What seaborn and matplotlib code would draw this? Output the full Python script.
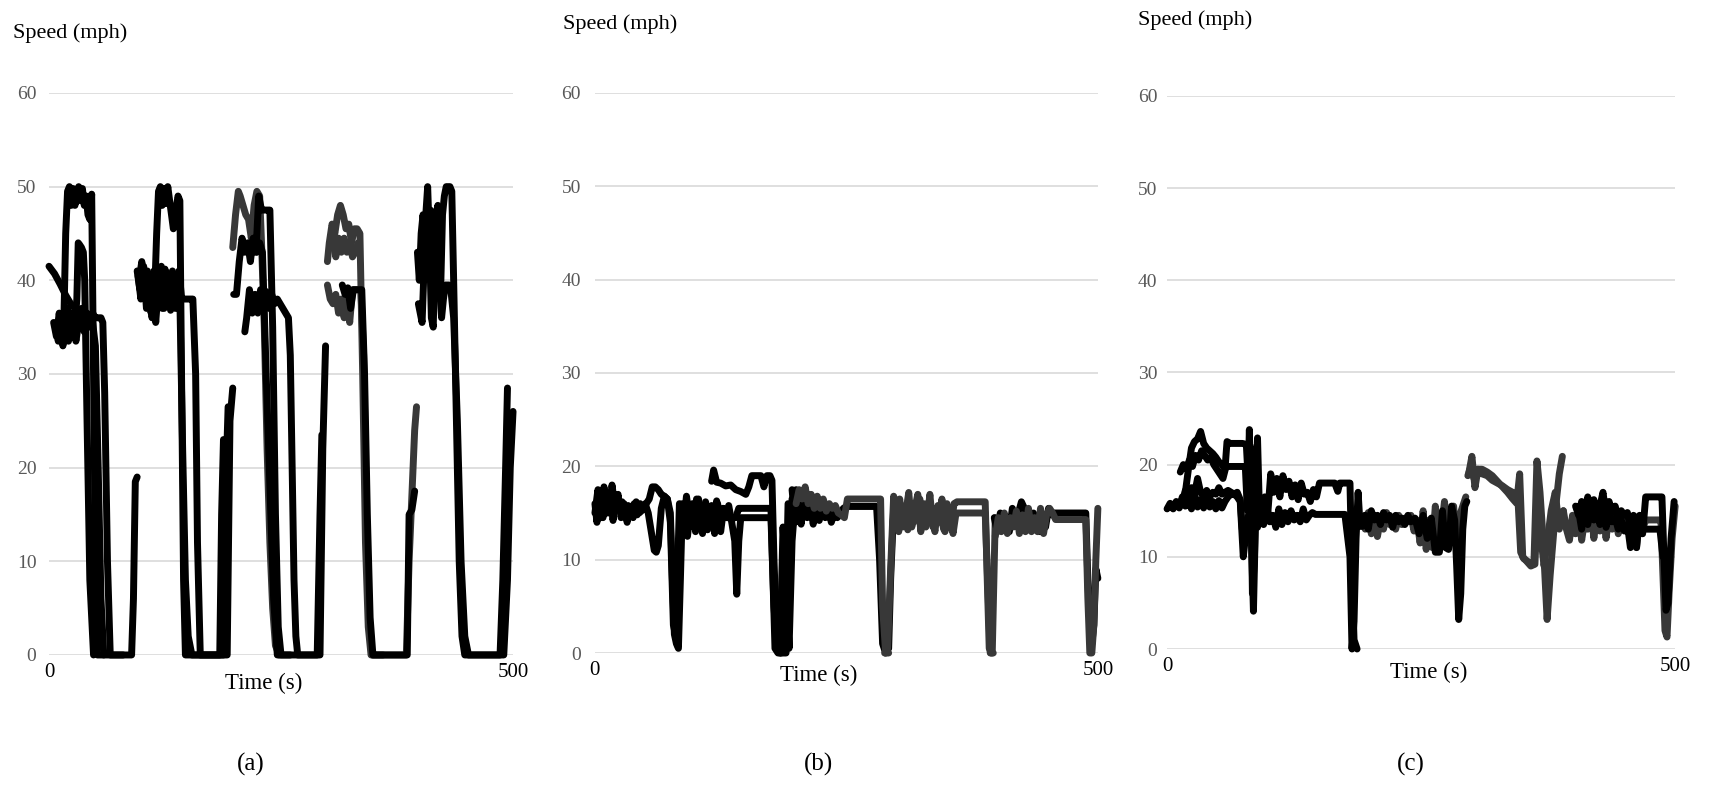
import matplotlib
matplotlib.use("Agg")
import matplotlib.pyplot as plt
import pandas as pd
import seaborn as sns

BLACK = "#000000"
GRAY = "#383838"

# ---------------- Panel (a): arterial with five signal cycles ----------------
a1_t = [0, 6, 12, 18, 24, 30, 36, 42, 47, 50, 53, 56, 59]
a1_v = [41.5, 40.7, 39.6, 38.4, 37.4, 36.8, 36.3, 36.0, 35.5, 33.0, 20.0, 6.0, 0.0]

a2_t = [8, 10, 12, 14, 16, 18, 20, 22, 24, 26, 28, 30, 32, 34, 36, 38, 40, 42, 44, 46, 48, 50, 52, 60, 75, 89, 91, 93, 95]
a2_v = [35.0, 33.5, 36.0, 34.0, 35.5, 45.0, 49.5, 50.0, 48.0, 49.8, 48.0, 49.5, 50.0, 48.5, 49.8, 48.0, 49.0, 47.0, 46.5, 49.2, 30.0, 10.0, 0.0, 0.0, 0.0, 0.0, 6.0, 18.5, 19.0]

a3_t = [12, 15, 18, 21, 24, 27, 30, 31.5, 33, 35, 37, 38.5, 41, 44, 48]
a3_v = [36.0, 33.0, 35.5, 33.5, 36.5, 34.0, 38.0, 44.0, 43.8, 43.5, 43.0, 40.0, 25.0, 8.0, 0.0]

a4_t = [5, 8, 11, 14, 17, 20, 23, 26, 29, 32, 35, 38, 41, 44, 47, 50, 53, 56, 58, 60, 63, 66, 80]
a4_v = [35.5, 34.0, 36.5, 33.5, 35.0, 37.0, 34.0, 36.0, 33.5, 35.5, 37.0, 34.5, 36.5, 35.0, 36.5, 36.0, 36.0, 36.0, 35.5, 28.0, 10.0, 0.0, 0.0]

a5_t = [96, 99, 102, 105, 108, 111, 114, 116, 118, 120, 122, 124, 126, 128, 130, 132, 134, 136, 139, 141, 143, 145, 147, 160, 184, 186, 188]
a5_v = [40.5, 38.0, 41.5, 37.0, 40.0, 36.0, 39.0, 45.0, 49.5, 50.0, 48.0, 49.8, 48.2, 50.0, 48.5, 47.0, 45.5, 47.0, 49.0, 48.5, 28.0, 8.0, 0.0, 0.0, 0.0, 15.0, 23.0]

a6_t = [95, 98, 101, 104, 107, 110, 113, 116, 119, 122, 125, 128, 131, 134, 137, 140, 143, 146, 149, 152, 155, 158, 160, 163, 175, 192, 195, 198]
a6_v = [41.0, 39.0, 41.5, 38.5, 40.0, 36.5, 41.0, 38.0, 40.5, 37.0, 41.2, 39.0, 36.8, 40.0, 38.0, 41.0, 38.0, 38.0, 38.0, 38.0, 38.0, 30.0, 12.0, 0.0, 0.0, 0.0, 25.0, 28.5]

a7_t = [97, 100, 103, 106, 109, 112, 115, 118, 121, 124, 127, 130, 133, 136, 139, 141, 144, 147, 150, 154, 170, 188, 191, 193]
a7_v = [40.0, 42.0, 38.5, 41.0, 37.5, 40.5, 35.5, 39.5, 41.5, 37.0, 40.0, 38.5, 41.0, 37.0, 39.5, 38.0, 22.0, 8.0, 2.0, 0.0, 0.0, 0.0, 20.0, 26.5]

a8_t = [198, 201, 204, 206, 209, 212, 215, 218, 221, 224, 227, 229, 232, 235, 238, 241, 244, 248]
a8_v = [43.5, 47.0, 49.5, 49.0, 48.0, 47.0, 46.5, 44.5, 48.0, 49.5, 49.0, 44.0, 35.0, 22.0, 12.0, 5.0, 1.0, 0.0]

a9_t = [199, 202, 205, 208, 211, 214, 217, 220, 223, 226, 229, 232, 235, 238, 241, 244, 247, 250, 270, 289, 292, 294]
a9_v = [38.5, 38.5, 42.0, 44.5, 43.0, 44.0, 42.0, 44.5, 43.0, 49.0, 47.5, 47.5, 47.5, 47.5, 35.0, 15.0, 3.0, 0.0, 0.0, 0.0, 15.0, 23.5]

a10_t = [211, 213, 216, 219, 222, 225, 228, 231, 234, 237, 240, 243, 246, 249, 252, 255, 258, 260, 262, 264, 266, 268, 280, 292, 295, 298]
a10_v = [34.5, 36.0, 39.0, 36.5, 38.5, 36.5, 39.0, 37.0, 38.8, 37.0, 38.5, 37.5, 38.0, 37.5, 37.0, 36.5, 36.0, 32.0, 20.0, 8.0, 2.0, 0.0, 0.0, 0.0, 22.0, 33.0]

a11_t = [224, 227, 230, 234, 238, 242, 246, 260]
a11_v = [43.0, 44.0, 43.0, 30.0, 18.0, 6.0, 0.0, 0.0]

a12_t = [300, 302, 305, 308, 311, 314, 317, 320, 323, 326, 329, 332, 335, 338, 341, 344, 347, 360]
a12_v = [42.0, 44.0, 46.0, 45.0, 47.0, 48.0, 47.0, 45.5, 46.0, 44.0, 45.5, 45.5, 45.0, 30.0, 12.0, 3.0, 0.0, 0.0]

a13_t = [300, 303, 306, 309, 312, 315, 318, 321, 324, 327, 330, 333, 336, 339, 342, 345, 348, 370, 385, 388, 391, 394, 396]
a13_v = [39.5, 38.0, 37.5, 38.5, 36.5, 38.0, 36.0, 39.0, 35.5, 39.0, 39.0, 39.0, 39.0, 32.0, 15.0, 4.0, 0.0, 0.0, 0.0, 10.0, 17.0, 24.0, 26.5]

a14_t = [303, 306, 309, 312, 315, 318, 321, 324, 327, 330, 333]
a14_v = [43.5, 44.5, 42.5, 44.5, 43.0, 44.5, 43.0, 44.0, 42.5, 43.0, 44.0]

a15_t = [316, 319, 322, 325, 328, 331, 334, 337, 340, 343, 346, 349, 352, 370, 386, 388, 391, 394]
a15_v = [39.5, 38.5, 39.2, 37.0, 39.0, 39.0, 39.0, 39.0, 30.0, 15.0, 4.0, 0.0, 0.0, 0.0, 0.0, 15.0, 15.5, 17.5]

a16_t = [398, 400, 402, 404, 406, 408, 410, 412, 414, 416, 418, 420, 422, 424, 426, 428, 430, 432, 434, 436, 439, 442, 445, 448, 470, 486, 489, 492, 494]
a16_v = [37.5, 36.5, 35.5, 41.0, 47.0, 50.0, 44.0, 36.0, 35.0, 43.0, 46.5, 42.0, 39.0, 47.0, 49.0, 50.0, 50.0, 50.0, 49.5, 40.0, 25.0, 10.0, 2.0, 0.0, 0.0, 0.0, 8.0, 20.0, 28.5]

a17_t = [397, 399, 401, 403, 405, 407, 409, 411, 413, 415, 417, 419, 421, 423, 425, 427, 429, 431, 433, 436, 440, 444, 448, 452, 475, 490, 494, 497, 500]
a17_v = [43.0, 40.0, 45.0, 47.0, 45.0, 43.5, 46.5, 47.5, 46.0, 44.0, 47.0, 48.0, 39.0, 36.0, 38.0, 39.5, 39.5, 39.5, 39.0, 36.0, 25.0, 10.0, 2.0, 0.0, 0.0, 0.0, 8.0, 20.0, 26.0]

# ---------------- Panel (b): low-speed corridor ----------------
b1_t = [0, 3, 6, 9, 12, 15, 18, 21, 24, 27, 30, 33, 36, 39, 42, 45, 48, 51, 54, 57, 60, 63, 66, 69, 72, 75, 77, 79, 81, 83, 85, 87, 89, 92, 95, 98, 101, 104, 107, 110, 113, 116, 119, 122, 125, 128, 131, 134, 137, 140, 143, 146, 150, 155, 160, 165, 170, 175, 177, 179, 182, 186, 190, 193, 196, 199]
b1_v = [15.0, 17.5, 14.5, 17.8, 15.0, 17.2, 14.2, 16.8, 15.5, 16.2, 14.5, 15.8, 15.2, 16.0, 14.8, 16.0, 15.5, 16.0, 16.5, 17.8, 17.8, 17.5, 17.0, 16.8, 16.5, 15.0, 8.0, 2.0, 1.0, 0.5, 8.0, 16.0, 14.0, 12.5, 15.5, 13.5, 16.5, 14.0, 12.8, 16.2, 13.5, 15.8, 12.8, 16.0, 13.0, 15.5, 14.5, 14.5, 14.5, 14.5, 15.5, 15.5, 15.5, 15.5, 15.5, 15.5, 15.5, 15.5, 8.0, 0.5, 0.0, 0.0, 0.0, 8.0, 16.5, 17.0]

b2_t = [0, 2, 5, 8, 11, 14, 17, 20, 23, 26, 29, 32, 35, 38, 41, 44, 47, 50, 53, 56, 59, 61, 63, 66, 69, 72, 75, 78, 80, 82, 84, 86, 88, 91, 94, 97, 100, 103, 106, 109, 112, 115, 118, 121, 124, 127, 130, 133, 136, 139, 141, 143, 145, 150, 160, 170, 175, 178, 181, 184, 187, 190, 193, 196, 200]
b2_v = [16.0, 14.0, 17.0, 14.5, 16.5, 15.0, 18.0, 15.5, 17.0, 14.5, 16.0, 14.0, 15.5, 14.5, 16.2, 15.0, 15.3, 16.0, 15.0, 13.0, 11.0, 10.8, 11.5, 15.5, 16.8, 16.5, 14.0, 3.0, 2.0, 8.0, 16.0, 14.5, 13.5, 16.8, 14.5, 16.0, 13.0, 16.5, 14.0, 15.8, 13.2, 15.5, 14.2, 16.3, 13.5, 15.5, 14.5, 15.8, 14.0, 12.0, 6.3, 12.0, 14.5, 14.5, 14.5, 14.5, 14.5, 5.0, 0.5, 0.0, 13.5, 8.0, 0.5, 12.0, 17.5]

b3_t = [116, 118, 121, 125, 130, 135, 140, 145, 150, 153, 156, 160, 165, 168, 171, 174, 176, 178, 181, 185, 189, 192]
b3_v = [18.4, 19.6, 18.3, 18.2, 17.9, 18.0, 17.5, 17.3, 17.0, 17.8, 19.0, 19.0, 19.0, 17.8, 19.0, 19.0, 18.5, 10.0, 1.0, 0.0, 0.5, 16.0]

b4_t = [196, 199, 202, 205, 208, 211, 214, 217, 220, 223, 226, 229, 232, 235, 238, 241, 244, 247, 250, 253, 256, 260, 265, 270, 275, 280, 283, 286, 289, 292, 294, 297]
b4_v = [17.5, 14.0, 16.0, 13.8, 16.5, 14.5, 16.2, 13.8, 16.0, 14.2, 15.8, 14.5, 15.5, 14.0, 15.0, 14.5, 15.0, 15.5, 15.7, 15.7, 15.7, 15.7, 15.7, 15.7, 15.7, 15.7, 10.0, 1.0, 0.0, 0.5, 8.0, 15.5]

b5_t = [200, 203, 206, 209, 212, 215, 218, 221, 224, 227, 230, 233, 236, 239, 242, 245, 248, 251, 254, 258, 262, 266, 270, 275, 280, 284, 286, 289, 292]
b5_v = [16.0, 17.5, 16.5, 17.8, 16.0, 17.0, 15.5, 16.8, 15.5, 16.5, 15.2, 16.0, 15.5, 15.8, 15.0, 14.8, 14.5, 16.5, 16.5, 16.5, 16.5, 16.5, 16.5, 16.5, 16.5, 16.5, 5.0, 0.0, 0.0]

b6_t = [288, 291, 294, 297, 300, 303, 306, 309, 312, 315, 318, 321, 324, 327, 330, 333, 336, 339, 342, 345, 348, 351, 354, 357, 360, 365, 370, 375, 380, 385, 388, 390, 392, 394, 396]
b6_v = [0.0, 0.5, 9.0, 16.8, 14.0, 16.5, 13.5, 15.0, 17.2, 13.5, 15.5, 17.0, 13.0, 16.0, 14.0, 17.0, 13.5, 15.5, 14.0, 16.5, 13.0, 15.0, 13.5, 16.0, 16.2, 16.2, 16.2, 16.2, 16.2, 16.2, 16.2, 8.0, 0.5, 0.0, 0.0]

b7_t = [296, 299, 302, 305, 308, 311, 314, 317, 320, 323, 326, 329, 332, 335, 338, 341, 344, 347, 350, 353, 356, 359, 365, 370, 375, 380, 385, 388, 391, 393, 395, 398]
b7_v = [14.0, 15.5, 13.0, 15.8, 14.5, 13.2, 16.0, 14.0, 15.2, 16.5, 14.5, 13.5, 16.2, 15.0, 13.0, 15.8, 14.5, 13.2, 16.0, 14.5, 12.8, 15.0, 15.0, 15.0, 15.0, 15.0, 15.0, 15.0, 6.0, 0.0, 0.0, 14.5]

b8_t = [397, 400, 403, 406, 409, 412, 415, 418, 421, 424, 427, 430, 433, 436, 439, 442, 445, 448, 451, 454, 457, 460, 465, 470, 475, 480, 485, 488, 490, 492, 494, 496, 498, 500]
b8_v = [14.5, 13.0, 15.0, 13.5, 14.5, 13.0, 15.5, 14.0, 15.0, 16.2, 15.5, 14.0, 13.5, 15.0, 14.0, 13.0, 14.5, 13.5, 15.5, 14.8, 15.0, 15.0, 15.0, 15.0, 15.0, 15.0, 15.0, 15.0, 8.0, 3.0, 1.0, 3.0, 9.0, 8.0]

b9_t = [398, 401, 404, 407, 410, 413, 416, 419, 422, 425, 428, 431, 434, 437, 440, 443, 446, 449, 452, 455, 458, 462, 466, 470, 475, 480, 485, 488, 490, 492, 494, 496, 498, 500]
b9_v = [12.5, 14.5, 13.0, 15.0, 12.8, 14.5, 13.5, 15.2, 12.8, 14.8, 13.0, 15.5, 13.0, 14.5, 13.0, 15.5, 12.8, 14.8, 15.5, 15.0, 14.3, 14.3, 14.3, 14.3, 14.3, 14.3, 14.3, 14.3, 6.0, 0.0, 0.0, 3.0, 10.0, 15.5]

# ---------------- Panel (c): mixed low-speed corridor ----------------
c1_t = [0, 3, 6, 9, 12, 15, 18, 21, 24, 27, 30, 33, 36, 39, 42, 45, 48, 51, 54, 57, 60, 63, 66, 69, 72, 75, 77, 80, 83, 86, 89, 92, 95, 98, 101, 104, 107, 110, 113, 116, 119, 122, 125, 128, 131, 134, 137, 140, 143, 146, 150, 155, 160, 165, 170, 175, 180, 182, 184, 186, 188, 190, 192, 195]
c1_v = [15.2, 15.8, 15.2, 16.0, 15.3, 16.5, 15.5, 16.3, 15.2, 16.8, 15.4, 16.2, 15.3, 16.5, 15.4, 16.0, 15.2, 16.1, 15.3, 16.0, 16.5, 16.8, 16.8, 16.5, 16.0, 10.0, 12.0, 14.5, 13.5, 15.0, 13.2, 14.8, 13.5, 15.5, 13.8, 14.5, 13.2, 15.2, 13.5, 14.8, 13.8, 15.0, 14.0, 14.5, 13.8, 15.2, 14.0, 14.5, 14.8, 14.6, 14.6, 14.6, 14.6, 14.6, 14.6, 14.6, 10.0, 0.0, 3.0, 12.0, 17.0, 13.3, 13.5, 14.5]

c2_t = [13, 16, 19, 22, 25, 28, 31, 34, 37, 40, 43, 46, 49, 52, 55, 58, 62, 66, 70, 74, 77, 79, 81, 83, 85, 87, 89, 91]
c2_v = [19.2, 20.0, 19.5, 20.5, 19.8, 21.0, 20.5, 21.5, 21.0, 20.5, 20.8, 20.0, 19.5, 19.0, 18.5, 19.8, 19.8, 19.8, 19.8, 19.8, 19.8, 15.0, 23.8, 12.0, 4.1, 14.0, 22.9, 14.5]

c3_t = [18, 21, 24, 27, 30, 33, 36, 39, 42, 45, 48, 51, 54, 57, 59, 62, 66, 70, 74, 78, 80, 82, 84, 86, 88, 90, 92]
c3_v = [17.0, 19.5, 21.8, 22.5, 22.8, 23.6, 22.3, 21.8, 21.5, 21.2, 20.8, 20.3, 20.0, 19.5, 22.5, 22.3, 22.3, 22.3, 22.3, 22.2, 18.0, 22.0, 6.0, 10.0, 20.0, 15.0, 14.0]

c4_t = [15, 18, 21, 24, 27, 30, 33, 36, 39, 42, 45, 48, 51, 54, 57, 60, 63, 66, 69, 72, 74]
c4_v = [16.0, 17.2, 16.5, 17.5, 16.8, 18.5, 17.0, 16.5, 17.2, 16.5, 17.0, 16.8, 17.5, 16.8, 17.0, 17.2, 17.0, 16.8, 17.0, 16.2, 13.0]

c5_t = [93, 96, 99, 102, 105, 108, 111, 114, 117, 120, 123, 126, 129, 132, 135, 138, 141, 144, 147, 150, 155, 160, 165, 168, 170, 172, 175, 180, 182, 184, 187]
c5_v = [14.0, 16.5, 14.5, 19.0, 17.0, 18.5, 16.5, 18.8, 17.3, 18.2, 16.5, 17.8, 16.2, 18.0, 16.8, 17.0, 16.0, 17.3, 16.5, 18.0, 18.0, 18.0, 18.0, 17.1, 18.0, 18.0, 18.0, 18.0, 8.0, 1.0, 0.0]

c6_t = [195, 198, 201, 204, 207, 210, 213, 216, 219, 222, 225, 228, 231, 234, 237, 240, 243, 246, 249, 252, 255, 258, 261, 264, 267, 270, 273, 276, 279, 282, 285, 288, 291, 294]
c6_v = [13.0, 14.8, 12.5, 14.5, 12.2, 14.0, 13.0, 14.8, 13.5, 14.2, 13.0, 14.5, 13.5, 14.2, 13.8, 14.5, 12.8, 14.0, 11.5, 15.0, 10.8, 14.0, 11.0, 15.5, 12.0, 13.0, 16.0, 12.5, 14.0, 15.5, 11.0, 14.5, 15.5, 16.5]

c7_t = [192, 195, 198, 201, 204, 207, 210, 213, 216, 219, 222, 225, 228, 231, 234, 237, 240, 244, 248, 252, 256, 260, 264, 268, 271, 274, 277, 280, 283, 285, 287, 289, 291, 293, 295]
c7_v = [13.3, 14.5, 13.0, 15.0, 14.0, 14.5, 13.5, 14.8, 14.0, 14.5, 13.2, 14.5, 13.8, 14.2, 13.5, 14.5, 13.8, 14.2, 12.5, 14.5, 12.0, 14.2, 10.5, 10.5, 15.0, 11.0, 10.8, 15.5, 14.0, 9.0, 3.2, 6.0, 13.0, 15.5, 16.0]

c8_t = [297, 300, 303, 306, 310, 315, 320, 325, 330, 335, 340, 345, 348, 351, 355, 358, 361, 364, 367, 370, 374, 377, 380, 383, 386, 389]
c8_v = [19.1, 20.9, 17.5, 19.5, 19.0, 18.8, 18.3, 18.0, 17.7, 17.3, 17.0, 16.9, 10.5, 9.8, 9.5, 9.3, 9.2, 20.4, 17.0, 12.0, 3.2, 8.0, 12.0, 16.0, 19.0, 20.9]

c9_t = [296, 299, 302, 305, 310, 315, 320, 325, 330, 335, 340, 344, 347, 350, 354, 358, 362, 365, 368, 371, 374, 378, 382, 386, 390]
c9_v = [18.8, 19.8, 18.5, 19.5, 19.5, 19.2, 18.8, 18.2, 17.6, 17.0, 16.3, 15.8, 19.0, 10.0, 9.5, 9.0, 9.2, 17.0, 12.0, 9.0, 11.5, 15.0, 17.0, 13.0, 15.0]

c10_t = [390, 393, 396, 399, 402, 405, 408, 411, 414, 417, 420, 423, 426, 429, 432, 435, 438, 441, 444, 447, 450, 453, 456, 459, 462, 465, 468, 471, 474, 477, 480, 483, 486, 488, 490, 492, 494, 497, 500]
c10_v = [15.0, 13.0, 11.8, 14.5, 12.5, 15.0, 11.8, 14.0, 13.0, 15.5, 12.0, 14.5, 12.8, 15.0, 12.0, 14.5, 13.0, 15.0, 12.5, 14.0, 13.0, 14.5, 12.5, 14.0, 11.0, 14.0, 13.0, 14.0, 14.0, 14.0, 14.0, 14.0, 14.0, 8.0, 2.0, 1.3, 6.0, 12.0, 15.5]

c11_t = [402, 405, 408, 411, 414, 417, 420, 423, 426, 429, 432, 435, 438, 441, 444, 447, 450, 453, 456, 459, 462, 465, 468, 471, 474, 477, 480, 484, 487, 489, 491, 493, 496, 499]
c11_v = [15.5, 14.5, 16.0, 14.5, 16.5, 15.0, 16.2, 14.5, 15.5, 17.0, 14.5, 16.0, 14.8, 15.5, 14.2, 15.0, 14.5, 14.8, 13.0, 14.5, 11.0, 14.5, 12.5, 16.5, 16.5, 16.5, 16.5, 16.5, 16.5, 10.0, 4.2, 5.0, 12.0, 16.0]

c12_t = [405, 408, 411, 414, 417, 420, 423, 426, 429, 432, 435, 438, 441, 444, 447, 450, 453, 456, 459, 462, 466, 470, 475, 480, 485, 488]
c12_v = [15.0, 13.0, 15.5, 13.5, 16.0, 14.0, 15.0, 13.5, 14.8, 13.2, 14.5, 13.8, 14.2, 13.0, 14.0, 12.8, 13.5, 11.0, 13.5, 13.0, 13.0, 13.0, 13.0, 13.0, 13.0, 10.0]

Y_TICKS = [0, 10, 20, 30, 40, 50, 60]
X_TICKS = [0, 500]
Y_LABEL = "Speed (mph)"
X_LABEL = "Time (s)"
PANEL_TAGS = ["(a)", "(b)", "(c)"]

panel_runs = [
    [(a1_t, a1_v, BLACK), (a2_t, a2_v, BLACK), (a3_t, a3_v, BLACK), (a4_t, a4_v, BLACK),
     (a5_t, a5_v, BLACK), (a6_t, a6_v, BLACK), (a7_t, a7_v, BLACK), (a8_t, a8_v, GRAY),
     (a9_t, a9_v, BLACK), (a10_t, a10_v, BLACK), (a11_t, a11_v, BLACK), (a12_t, a12_v, GRAY),
     (a13_t, a13_v, GRAY), (a14_t, a14_v, GRAY), (a15_t, a15_v, BLACK), (a16_t, a16_v, BLACK),
     (a17_t, a17_v, BLACK)],
    [(b1_t, b1_v, BLACK), (b2_t, b2_v, BLACK), (b3_t, b3_v, BLACK), (b4_t, b4_v, BLACK),
     (b5_t, b5_v, GRAY), (b6_t, b6_v, GRAY), (b7_t, b7_v, GRAY), (b8_t, b8_v, BLACK),
     (b9_t, b9_v, GRAY)],
    [(c1_t, c1_v, BLACK), (c2_t, c2_v, BLACK), (c3_t, c3_v, BLACK), (c4_t, c4_v, BLACK),
     (c5_t, c5_v, BLACK), (c6_t, c6_v, GRAY), (c7_t, c7_v, BLACK), (c8_t, c8_v, GRAY),
     (c9_t, c9_v, GRAY), (c10_t, c10_v, GRAY), (c11_t, c11_v, BLACK), (c12_t, c12_v, BLACK)],
]

sns.set_theme(style="white")
plt.rcParams["font.family"] = ["Liberation Serif", "DejaVu Serif"]

fig = plt.figure(figsize=(17.13, 7.86), dpi=100)

axes_rects = [
    [0.0286, 0.1667, 0.2709, 0.7150],
    [0.3473, 0.1692, 0.2936, 0.7125],
    [0.6813, 0.1743, 0.2966, 0.7037],
]
ylabel_pos = [(0.0076, 0.958), (0.3287, 0.969), (0.6643, 0.975)]
xlabel_pos = [(0.1541, 0.131), (0.4781, 0.141), (0.8342, 0.145)]
tag_pos = [(0.1466, 0.027), (0.4781, 0.027), (0.8237, 0.027)]
ytick_pad = [9, 10, 7]

for i, runs in enumerate(panel_runs):
    ax = fig.add_axes(axes_rects[i])
    frames = []
    palette = {}
    for k, (tt, vv, col) in enumerate(runs):
        name = f"run{k}"
        frames.append(pd.DataFrame({"t": tt, "v": vv, "run": name}))
        palette[name] = col
    df = pd.concat(frames, ignore_index=True)

    ax.set_axisbelow(True)
    ax.grid(axis="y", color="#d9d9d9", linewidth=1.2)
    ax.grid(axis="x", visible=False)

    sns.lineplot(data=df, x="t", y="v", hue="run", palette=palette,
                 estimator=None, sort=False, legend=False, linewidth=5,
                 solid_joinstyle="round", solid_capstyle="round",
                 clip_on=False, ax=ax, zorder=3)

    ax.set_xlim(0, 500)
    ax.set_ylim(0, 60)
    ax.set_yticks(Y_TICKS)
    ax.set_xticks(X_TICKS)
    ax.set_xlabel("")
    ax.set_ylabel("")
    for s in ax.spines.values():
        s.set_visible(False)
    ax.tick_params(axis="y", length=0, pad=ytick_pad[i], labelsize=14, labelcolor="#595959")
    ax.tick_params(axis="x", length=0, pad=6, labelsize=15, labelcolor="#000000")

    fig.text(*ylabel_pos[i], Y_LABEL, fontsize=16, ha="left", va="center", color="#000000")
    fig.text(*xlabel_pos[i], X_LABEL, fontsize=16.5, ha="center", va="center", color="#000000")
    fig.text(*tag_pos[i], PANEL_TAGS[i], fontsize=18, ha="center", va="center", color="#000000")

fig.savefig("out.png", dpi=100, facecolor="white")
